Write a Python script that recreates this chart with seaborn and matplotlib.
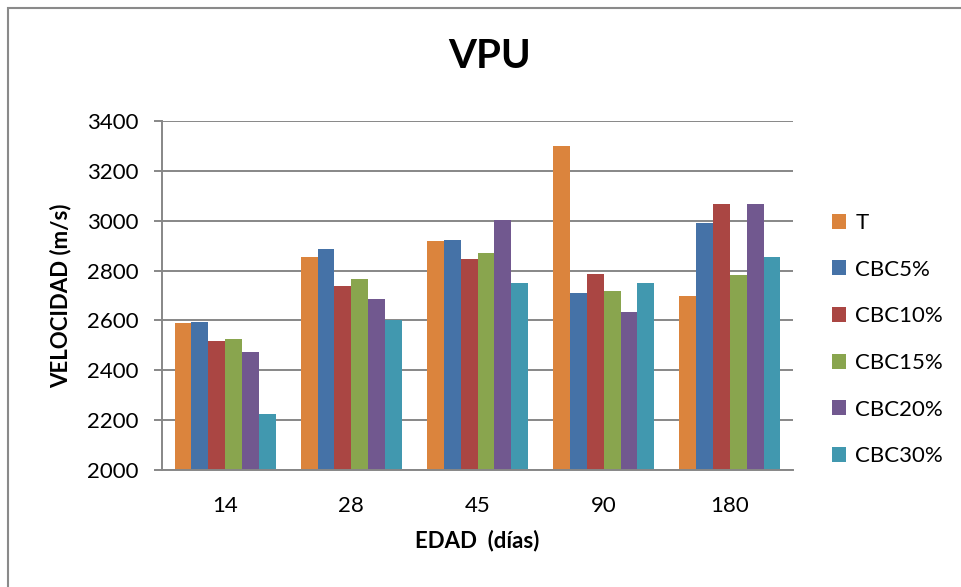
import pandas as pd
import numpy as np
import seaborn as sns
import matplotlib.pyplot as plt
from matplotlib.patches import Rectangle

# datos
edades = ["14", "28", "45", "90", "180"]
series = ["T", "CBC5%", "CBC10%", "CBC15%", "CBC20%", "CBC30%"]
vel_T = [2591, 2853, 2918, 3301, 2698]
vel_CBC5 = [2595, 2886, 2921, 2710, 2992]
vel_CBC10 = [2517, 2738, 2848, 2785, 3066]
vel_CBC15 = [2527, 2766, 2869, 2718, 2783]
vel_CBC20 = [2472, 2685, 3001, 2634, 3066]
vel_CBC30 = [2225, 2603, 2749, 2749, 2854]
colores = ["#DB843D", "#4572A7", "#AA4643", "#89A54E", "#71588F", "#4198AF"]

valores = [vel_T, vel_CBC5, vel_CBC10, vel_CBC15, vel_CBC20, vel_CBC30]
df = pd.DataFrame({
    "edad": edades * len(series),
    "serie": np.repeat(series, len(edades)),
    "vel": np.concatenate(valores),
})

sns.set_style("white")
plt.rcParams["font.family"] = ["Lato", "DejaVu Sans"]
plt.rcParams["text.color"] = "black"
plt.rcParams["xtick.color"] = "black"
plt.rcParams["ytick.color"] = "black"
plt.rcParams["axes.labelcolor"] = "black"

fig = plt.figure(figsize=(9.61, 5.87), dpi=100)
ax = fig.add_axes([162 / 961, 1 - 470 / 587, 631 / 961, 349 / 587])

sns.barplot(data=df, x="edad", y="vel", hue="serie", order=edades,
            hue_order=series, palette=colores, width=0.8, saturation=1,
            edgecolor="none", ax=ax)

gris = "#878787"
ax.set_ylim(2000, 3400)
ax.set_yticks(np.arange(2000, 3401, 200))
ax.yaxis.grid(True, color=gris, linewidth=1.4)
ax.set_axisbelow(True)
for s in ["top", "right"]:
    ax.spines[s].set_visible(False)
for s in ["left", "bottom"]:
    ax.spines[s].set_color(gris)
    ax.spines[s].set_linewidth(1.4)
ax.tick_params(axis="y", direction="out", length=6, width=1.4, color=gris,
               labelcolor="black", pad=11, labelsize=16, left=True)
ax.tick_params(axis="x", length=0, pad=19, labelsize=16, labelcolor="black")

ax.set_xlabel("EDAD  (días)", fontsize=16, fontweight="bold")
ax.set_ylabel("VELOCIDAD (m/s)", fontsize=16, fontweight="bold")
ax.xaxis.set_label_coords(0.5, -0.172)
ax.yaxis.set_label_coords(-0.143, 0.5)

fig.text(490 / 961, 1 - 56 / 587, "VPU", fontsize=29, fontweight="bold",
         ha="center", va="center", color="black")

handles, labels = ax.get_legend_handles_labels()
ax.legend(handles, labels, loc="upper left",
          bbox_to_anchor=(832 / 961, 1 - 213 / 587),
          bbox_transform=fig.transFigure, frameon=False, fontsize=16,
          handlelength=0.65, handleheight=0.65, handletextpad=0.4,
          labelspacing=1.2, borderpad=0, borderaxespad=0)

# marco del grafico
fig.patches.append(Rectangle((8 / 961, -0.1), 1.2, 1.1 - 8 / 587,
                             transform=fig.transFigure, fill=False,
                             edgecolor="#8a8a8a", linewidth=1.5))

fig.savefig("out.png", dpi=100)
